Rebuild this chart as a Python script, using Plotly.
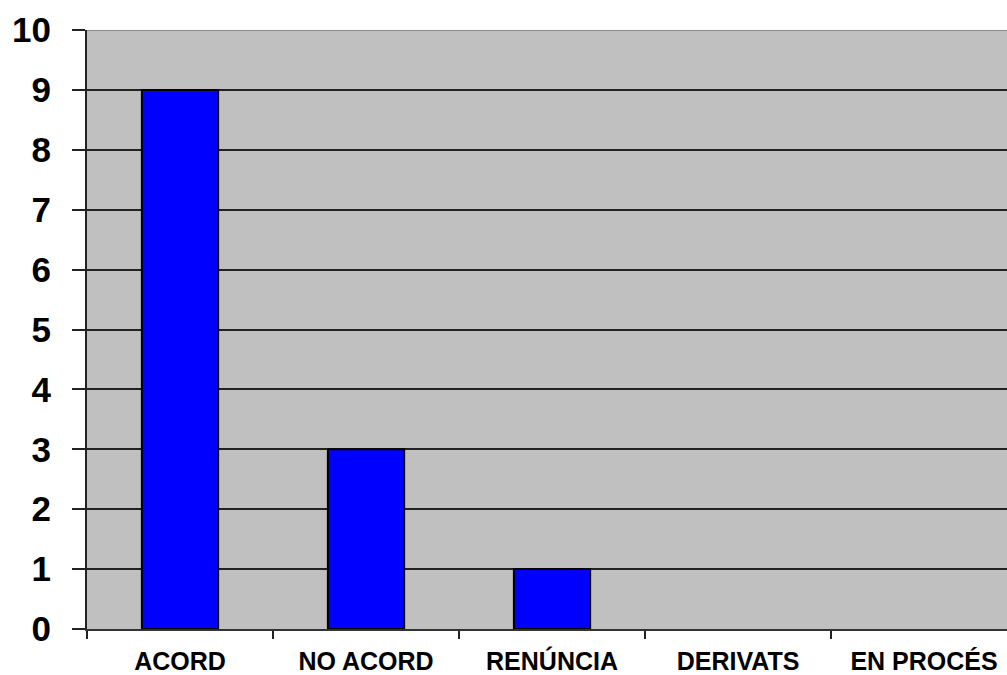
import plotly.graph_objects as go

categories = ["ACORD", "NO ACORD", "RENÚNCIA", "DERIVATS", "EN PROCÉS"]
values = [9, 3, 1, 0, 0]
y_ticks = list(range(0, 11))

fig = go.Figure()
fig.add_trace(go.Bar(
    x=categories, y=values, width=0.41,
    marker=dict(color="#0000ff",
                line=dict(color="#000000", width=[2 if v > 0 else 0 for v in values])),
))

fig.update_layout(
    width=1007, height=675,
    margin=dict(l=87, r=0, t=30, b=43),
    paper_bgcolor="white", plot_bgcolor="#c0c0c0",
    showlegend=False,
    font=dict(family="Liberation Sans, Arial", color="black"),
    shapes=[dict(type="line", xref="paper", yref="y", x0=0, x1=1, y0=10, y1=10,
                 line=dict(color="#8a8a8a", width=2), layer="above")],
)
fig.update_xaxes(
    range=[-0.5, 4.446],
    tickson="boundaries", ticks="outside", ticklen=8, tickwidth=2, tickcolor="#222",
    showline=True, linecolor="#333", linewidth=2,
    tickfont=dict(size=25, family="Liberation Sans, Arial", color="black", weight="bold"),
    ticklabelstandoff=9,
    showgrid=False,
)
fig.update_yaxes(
    range=[0, 10], tickvals=y_ticks,
    ticks="outside", ticklen=13, tickwidth=2, tickcolor="#222",
    showline=True, linecolor="#222", linewidth=2,
    showgrid=True, gridcolor="#222", gridwidth=1.5,
    tickfont=dict(size=35, family="Liberation Sans, Arial", color="black", weight="bold"),
    ticklabelstandoff=14,
    zeroline=False,
)
fig.write_html("out.html", config={"displayModeBar": False},
               post_script="document.body.style.margin='0';document.body.style.overflow='hidden';")
